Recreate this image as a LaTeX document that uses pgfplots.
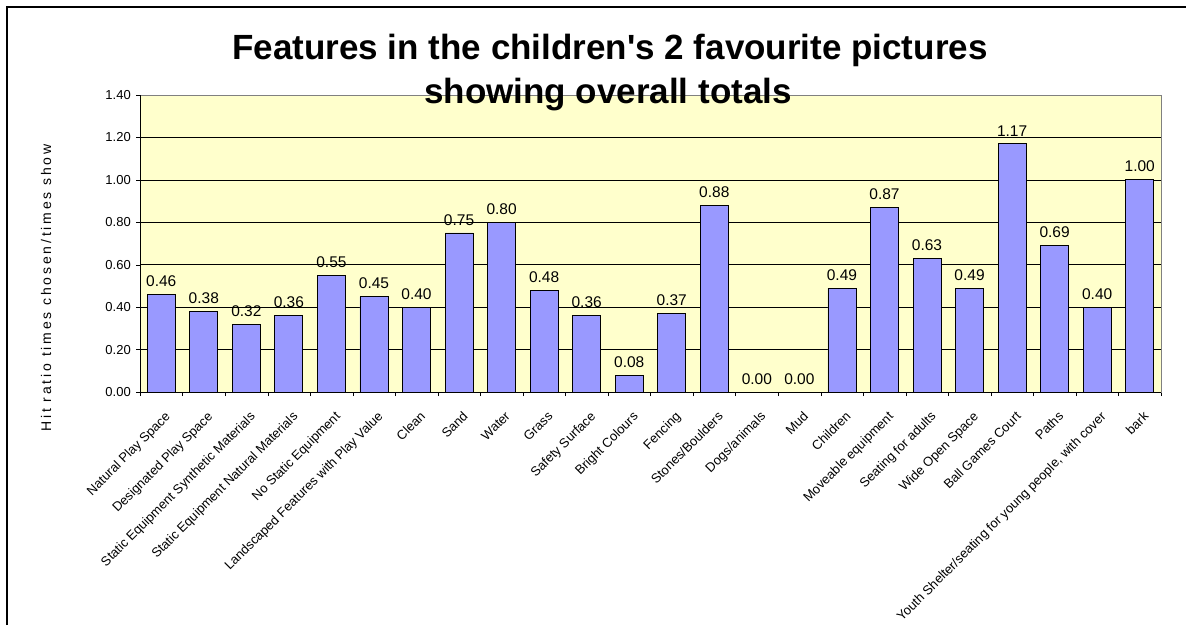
\documentclass[border=0pt]{standalone}
\usepackage{pgfplots}
\pgfplotsset{compat=1.18}
\usepackage{fontspec}
\setmainfont{Liberation Sans}
\definecolor{barblue}{HTML}{9999FF}
\definecolor{plotbg}{HTML}{FFFFCC}
\begin{document}
\begin{tikzpicture}
\path[use as bounding box] (0pt,0pt) rectangle (1186pt,-625pt);
\draw[line width=1.5pt] (7pt,-625pt) -- (7pt,-7pt) -- (1186pt,-7pt);
\begin{axis}[
  at={(140pt,-392pt)}, anchor=south west,
  scale only axis, width=1021pt, height=297pt,
  xmin=-0.5, xmax=23.5, ymin=0, ymax=1.4,
  axis background/.style={fill=plotbg},
  axis line style={draw=gray},
  ytick={0,0.2,...,1.4},
  yticklabel style={font=\fontsize{13}{15}\selectfont, inner sep=1pt, xshift=-4pt, /pgf/number format/fixed, /pgf/number format/fixed zerofill, /pgf/number format/precision=2, /pgf/number format/assume math mode=true},
  ymajorgrids, grid style={black, line width=0.6pt},
  tick align=outside,
  xtick pos=bottom, ytick pos=left,
  major tick length=4pt,
  tick style={black},
  xtick={-0.5,0.5,...,23.5},
  xticklabels={},
  extra x ticks={0,...,23},
  extra x tick labels={Natural Play Space,Designated Play Space,Static Equipment Synthetic Materials,Static Equipment Natural Materials,No Static Equipment,Landscaped Features with Play Value,Clean,Sand,Water,Grass,Safety Surface,Bright Colours,Fencing,Stones/Boulders,Dogs/animals,Mud,Children,Moveable equipment,Seating for adults,Wide Open Space,Ball Games Court,Paths,{Youth Shelter/seating for young people, with cover},bark},
  extra x tick style={major tick length=0pt, xticklabel style={rotate=45, anchor=north east, font=\fontsize{13}{15}\selectfont, inner sep=0pt, yshift=-15pt, xshift=-11pt}},
  nodes near coords,
  nodes near coords style={font=\fontsize{15.5}{17}\selectfont, yshift=4pt, /pgf/number format/fixed, /pgf/number format/fixed zerofill, /pgf/number format/precision=2, /pgf/number format/assume math mode=true},
]
\addplot[ybar, bar width=28pt, fill=barblue, draw=black, line width=0.8pt] coordinates {
(0,0.46) (1,0.38) (2,0.32) (3,0.36) (4,0.55) (5,0.45) (6,0.40) (7,0.75) (8,0.80) (9,0.48) (10,0.36) (11,0.08) (12,0.37) (13,0.88) (14,0.00) (15,0.00) (16,0.49) (17,0.87) (18,0.63) (19,0.49) (20,1.17) (21,0.69) (22,0.40) (23,1.00)
};
\draw[black, line width=0.8pt] (axis description cs:0,1) -- (axis description cs:0,0) -- (axis description cs:1,0);
\end{axis}
\node[rotate=90, font=\fontsize{14}{16}\selectfont\addfontfeatures{LetterSpace=20}] at (46pt,-288pt) {Hit ratio times chosen/times show};
\node[font=\fontsize{35}{40}\bfseries\selectfont] at (610pt,-50pt) {Features in the children\textquotesingle s 2 favourite pictures};
\node[font=\fontsize{35}{40}\bfseries\selectfont] at (608pt,-95pt) {showing overall totals};
\end{tikzpicture}
\end{document}
